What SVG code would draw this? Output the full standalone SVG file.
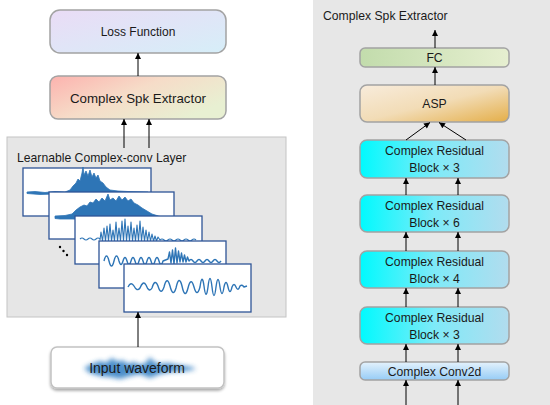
<svg xmlns="http://www.w3.org/2000/svg" width="550" height="405" viewBox="0 0 550 405">
<defs>
<style>
.t{font-family:"Liberation Sans",Arial,sans-serif;fill:#1a1a1a;text-anchor:middle}
.box{stroke:#a3a3a3;stroke-width:1.5}
.wb{fill:#fff;stroke:#2f5597;stroke-width:1.3}
.wf{fill:#2e75b6;stroke:#2e75b6;stroke-width:0.8}
.ws{fill:none;stroke:#2e75b6;stroke-width:1.4;stroke-linejoin:round}
.ar{stroke:#000;stroke-width:1;fill:none;marker-end:url(#ah)}
</style>
<marker id="ah" viewBox="0 0 10 10" refX="10" refY="5" markerWidth="7" markerHeight="6" orient="auto" markerUnits="userSpaceOnUse"><path d="M0,0 L10,5 L0,10 z" fill="#000"/></marker>
<linearGradient id="gLoss" x1="0" y1="0" x2="1" y2="1"><stop offset="0" stop-color="#eadcf6"/><stop offset="1" stop-color="#d6eef8"/></linearGradient>
<linearGradient id="gSpk" x1="0" y1="0" x2="1" y2="0.6"><stop offset="0" stop-color="#fcb2ae"/><stop offset="0.5" stop-color="#f6dcc8"/><stop offset="1" stop-color="#e8f0d2"/></linearGradient>
<linearGradient id="gFC" x1="0" y1="0" x2="1" y2="0"><stop offset="0" stop-color="#c2dcac"/><stop offset="1" stop-color="#e6efd0"/></linearGradient>
<linearGradient id="gASP" x1="0" y1="0" x2="1" y2="1"><stop offset="0" stop-color="#f8ecdc"/><stop offset="0.5" stop-color="#f2dcb6"/><stop offset="1" stop-color="#e4ae48"/></linearGradient>
<linearGradient id="gRes" x1="0" y1="0" x2="1" y2="0"><stop offset="0" stop-color="#00fafe"/><stop offset="0.5" stop-color="#7eeaf8"/><stop offset="1" stop-color="#b2dcee"/></linearGradient>
<linearGradient id="gConv" x1="0" y1="0" x2="0" y2="1"><stop offset="0" stop-color="#e4f2fc"/><stop offset="1" stop-color="#96ccf6"/></linearGradient>
<filter id="blur" x="-20%" y="-50%" width="140%" height="200%"><feGaussianBlur stdDeviation="2.6"/></filter>
<filter id="sh" x="-10%" y="-20%" width="120%" height="150%"><feGaussianBlur in="SourceAlpha" stdDeviation="1.5"/><feOffset dx="0" dy="1.5"/><feComponentTransfer><feFuncA type="linear" slope="0.35"/></feComponentTransfer><feMerge><feMergeNode/><feMergeNode in="SourceGraphic"/></feMerge></filter>
</defs>
<rect x="0" y="0" width="550" height="405" fill="#fff"/>
<rect id="rightPanel" x="313" y="0" width="237" height="405" fill="#e7e7e7"/>
<text class="t" x="323" y="20" style="text-anchor:start;font-size:12.2px">Complex Spk Extractor</text>

<g id="complexConvLayer">
<rect x="7" y="137" width="279" height="180" fill="#e6e6e6" stroke="#c4c4c4" stroke-width="1"/>
<text class="t" x="17" y="162" style="text-anchor:start;font-size:12.2px">Learnable Complex-conv Layer</text>
<rect class="wb" x="23" y="168" width="128" height="48"/>
<path class="wf" d="M27,192 L35,191.5 L45,192.5 L55,191.5 L65,192 L70,190 L73,186 L76,183 L78,179 L80,181 L82,173 L83,167 L84,175 L86,171 L88,176 L90,170 L92,177 L94,173 L96,178 L98,175 L100,181 L103,183 L106,187 L110,190 L118,191 L128,191.5 L148,192 L148,193.5 L128,193 L115,194 L105,196 L95,198 L85,198 L76,196 L68,194.5 L55,194 L40,194.5 L27,193.5 Z"/>
<rect class="wb" x="49" y="192" width="125" height="47"/>
<path class="wf" d="M55,216 L65,215.5 L72,214 L76,210 L80,207 L84,205 L87,206 L90,202 L93,203 L96,199 L99,202 L102,198 L105,201 L108,194 L110,200 L113,198 L116,201 L119,196 L122,200 L125,197 L128,201 L131,199 L134,203 L138,205 L142,208 L147,211 L152,214 L160,216.5 L170,217.5 L170,219 L150,219 L130,219.5 L110,220 L90,219.5 L72,219 L60,219 L55,218.5 Z"/>
<rect class="wb" x="75" y="216" width="127" height="48"/>
<path class="ws" style="stroke-width:1.1" d="M80,239 q2,-2 4,0 t4,0 t4,0 t4,0 t4,0 L100,240 L101,232 L102.5,241 L104,228 L105.5,241 L107,226 L108.5,241 L110,224 L111.5,241 L113,230 L114.5,241 L116,222 L117.5,241 L119,228 L120.5,241 L122,221 L123.5,241 L125,219 L126.5,241 L128,226 L129.5,241 L131,222 L132.5,241 L134,228 L135.5,241 L137,225 L138.5,241 L140,221 L141.5,241 L143,227 L144.5,241 L146,230 L147.5,241 L149,232 L150.5,241 L152,234 L153.5,241 L155,236 L156.5,241 L158,237 L160,240 q2,-2 4,0 t4,0 t4,0 t4,0 t4,0 t4,0 t4,0 t4,0 t4,0"/>
<rect class="wb" x="99" y="241" width="127" height="47"/>
<path class="ws" d="M104,261 q2.5,-10 5,0 t5,0 t5,0 q2,7 4,0 t4,0 t4,0 t4,0 t4,0 t4,0 t4,0 t4,0 t4,0 t4,0 t4,0 L168,259 L169.5,252 L171,263 L172.5,250 L174,264 L175.5,248 L177,263 L178.5,251 L180,262 L181.5,253 L183,262 L184.5,255 L186,262 L187.5,257 L189,261 q2,-3 4,0 t4,0 t4,0 t4,0 t4,0 t4,0 t4,0 t4,0"/>
<rect class="wb" x="124" y="264" width="127" height="48"/>
<path class="ws" d="M128,287 Q131,281 134,286 Q137,292 140,288 Q143,280 146,285 Q149,293 152,288 Q155,278 158,286 Q161,296 164,287 Q167,275 170,286 Q173,298 176,288 Q179,274 182,286 Q185,300 188,288 Q191,276 194,287 Q197,298 200,287 Q202,272 204,286 Q206,302 208,287 Q210,270 212,287 Q214,304 216,287 Q218,272 220,287 Q222,300 224,287 Q226,278 228,287 Q230,296 232,287 Q234,282 236,287 Q238,292 240,286 Q242,284 244,287 L247,286"/>
<circle cx="60" cy="247" r="1.2" fill="#000"/>
<circle cx="63.5" cy="251" r="1.2" fill="#000"/>
<circle cx="67" cy="255" r="1.2" fill="#000"/>
</g>

<g id="lossFunction">
<rect class="box" x="50" y="10" width="176" height="43" rx="10" fill="url(#gLoss)"/>
<text class="t" x="138" y="36" style="font-size:12px">Loss Function</text>
</g>
<g id="spkExtractor">
<rect class="box" x="50" y="76" width="176" height="43" rx="8" fill="url(#gSpk)"/>
<text class="t" x="138" y="103" style="font-size:13.3px">Complex Spk Extractor</text>
</g>
<g id="inputWaveform">
<rect x="51" y="347" width="173" height="41" rx="6" fill="#fff" stroke="#c2c2c2" stroke-width="1.5" filter="url(#sh)"/>
<path filter="url(#blur)" fill="#2e7dc2" opacity="0.85" d="M84,368 L92,364 L100,361 L106,363 L112,358 L118,362 L122,360 L128,364 L134,362 L140,365 L146,363 L150,357 L154,362 L160,364 L168,363 L178,365 L192,367 L196,369 L186,371 L170,372 L160,374 L150,378 L140,374 L130,376 L120,379 L110,377 L100,376 L90,373 Z"/>
<text class="t" x="137" y="373" style="font-size:14px">Input waveform</text>
</g>

<g id="fc">
<rect class="box" x="360" y="48" width="149" height="19" rx="5" fill="url(#gFC)"/>
<text class="t" x="434.5" y="62" style="font-size:12.2px">FC</text>
</g>
<g id="asp">
<rect class="box" x="360" y="85" width="149" height="37" rx="7" fill="url(#gASP)"/>
<text class="t" x="434.5" y="108" style="font-size:12.2px">ASP</text>
</g>
<g id="res1">
<rect class="box" x="360" y="140" width="149" height="38" rx="7" fill="url(#gRes)"/>
<text class="t" x="434.5" y="155" style="font-size:12.2px">Complex Residual</text>
<text class="t" x="434.5" y="172" style="font-size:12.2px">Block × 3</text>
</g>
<g id="res2">
<rect class="box" x="360" y="195" width="149" height="37" rx="7" fill="url(#gRes)"/>
<text class="t" x="434.5" y="210" style="font-size:12.2px">Complex Residual</text>
<text class="t" x="434.5" y="227" style="font-size:12.2px">Block × 6</text>
</g>
<g id="res3">
<rect class="box" x="360" y="251" width="149" height="37" rx="7" fill="url(#gRes)"/>
<text class="t" x="434.5" y="266" style="font-size:12.2px">Complex Residual</text>
<text class="t" x="434.5" y="283" style="font-size:12.2px">Block × 4</text>
</g>
<g id="res4">
<rect class="box" x="360" y="307" width="149" height="37" rx="7" fill="url(#gRes)"/>
<text class="t" x="434.5" y="322" style="font-size:12.2px">Complex Residual</text>
<text class="t" x="434.5" y="339" style="font-size:12.2px">Block × 3</text>
</g>
<g id="conv2d">
<rect class="box" x="360" y="362" width="149" height="18" rx="5" fill="url(#gConv)"/>
<text class="t" x="434.5" y="375.5" style="font-size:12.2px">Complex Conv2d</text>
</g>

<g id="connectors">
<line class="ar" x1="138" y1="76" x2="138" y2="53"/>
<line class="ar" x1="124" y1="148" x2="124" y2="119"/>
<line class="ar" x1="149" y1="148" x2="149" y2="119"/>
<line class="ar" x1="138" y1="347" x2="138" y2="312"/>
<line class="ar" x1="435" y1="48" x2="435" y2="30"/>
<line class="ar" x1="435" y1="85" x2="435" y2="67"/>
<line class="ar" x1="406" y1="140" x2="430" y2="122.5"/>
<line class="ar" x1="466" y1="140" x2="439" y2="122.5"/>
<line class="ar" x1="406" y1="195" x2="406" y2="178"/>
<line class="ar" x1="458" y1="195" x2="458" y2="178"/>
<line class="ar" x1="406" y1="251" x2="406" y2="232"/>
<line class="ar" x1="458" y1="251" x2="458" y2="232"/>
<line class="ar" x1="406" y1="307" x2="406" y2="288"/>
<line class="ar" x1="458" y1="307" x2="458" y2="288"/>
<line class="ar" x1="406" y1="362" x2="406" y2="344"/>
<line class="ar" x1="458" y1="362" x2="458" y2="344"/>
<line class="ar" x1="406" y1="405" x2="406" y2="380"/>
<line class="ar" x1="458" y1="405" x2="458" y2="380"/>
</g>
</svg>
